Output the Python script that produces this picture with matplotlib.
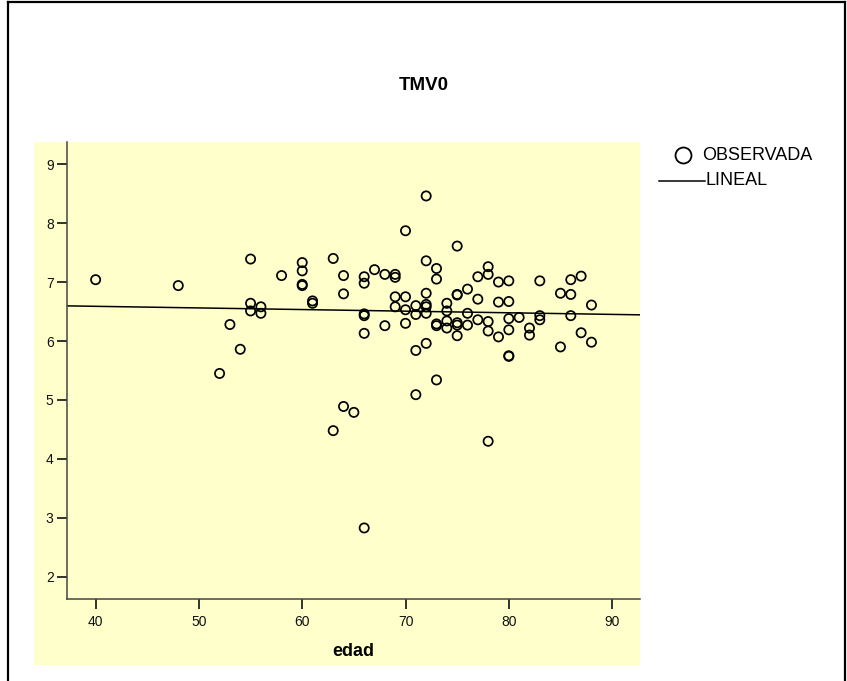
import matplotlib
matplotlib.use('Agg')
import matplotlib.pyplot as plt
from matplotlib.lines import Line2D
from matplotlib.patches import Rectangle
import numpy as np

plt.rcParams['font.family'] = ['Liberation Sans', 'DejaVu Sans']

title = 'TMV0'
x_label = 'edad'
legend_labels = ['OBSERVADA', 'LINEAL']
x_ticks = [40, 50, 60, 70, 80, 90]
y_ticks = [2, 3, 4, 5, 6, 7, 8, 9]

edad = [40, 48, 52, 53, 54,
        55, 55, 55, 56, 56, 58,
        60, 60, 60, 60, 61, 61,
        63, 63, 64, 64, 64, 65,
        66, 66, 66, 66, 66, 66, 67,
        68, 68, 69, 69, 69, 69,
        70, 70, 70, 70, 71, 71, 71, 71,
        72, 72, 72, 72, 72, 72, 72,
        73, 73, 73, 73, 73,
        74, 74, 74, 74,
        75, 75, 75, 75, 75, 75,
        76, 76, 76, 77, 77, 77,
        78, 78, 78, 78, 78,
        79, 79, 79,
        80, 80, 80, 80, 80, 80,
        81, 82, 82, 83, 83, 83,
        85, 85, 86, 86, 86, 87, 87, 88, 88]
tmv0 = [7.04, 6.94, 5.45, 6.28, 5.86,
        7.39, 6.64, 6.51, 6.58, 6.47, 7.11,
        7.33, 7.19, 6.96, 6.94, 6.68, 6.64,
        7.40, 4.48, 7.11, 6.80, 4.89, 4.79,
        7.09, 6.98, 6.46, 6.43, 6.13, 2.83, 7.21,
        7.13, 6.26, 7.13, 7.08, 6.75, 6.58,
        7.87, 6.75, 6.53, 6.30, 6.60, 6.45, 5.84, 5.09,
        8.46, 7.36, 6.81, 6.62, 6.58, 6.47, 5.96,
        7.23, 7.05, 6.29, 6.26, 5.34,
        6.64, 6.51, 6.34, 6.22,
        7.61, 6.79, 6.78, 6.31, 6.27, 6.09,
        6.88, 6.47, 6.27, 7.09, 6.71, 6.36,
        7.26, 7.13, 6.33, 6.17, 4.30,
        7.00, 6.66, 6.07,
        7.02, 6.67, 6.38, 6.19, 5.75, 5.74,
        6.40, 6.22, 6.10, 7.02, 6.43, 6.36,
        6.81, 5.90, 7.04, 6.79, 6.43, 7.10, 6.14, 6.61, 5.98]

fit_intercept = 6.698
fit_slope = -0.00274

W, H = 847, 681
fig = plt.figure(figsize=(W / 100, H / 100), dpi=100)
fig.patch.set_facecolor('white')


def fx(px):
    return px / W


def fy(py):
    return 1 - py / H


bg = '#FFFFCC'
fig.patches.append(Rectangle((fx(34), fy(665)), fx(640) - fx(34), fy(141.7) - fy(665),
                             transform=fig.transFigure, facecolor=bg, edgecolor='none', zorder=-5))

# outer frame
for (x0, y0, x1, y1) in [(8, 2, 845, 2), (8, 2, 8, 681), (845, 2, 845, 681)]:
    fig.add_artist(Line2D([fx(x0), fx(x1)], [fy(y0), fy(y1)], transform=fig.transFigure,
                          color='black', lw=1.6))

ax = fig.add_axes([fx(66.7), fy(599.3), fx(640) - fx(66.7), fy(141.7) - fy(599.3)])
ax.set_zorder(2)
ax.set_facecolor('none')
ax.set_xlim(37.2, 92.7)
ax.set_ylim(1.62, 9.38)
for s in ['top', 'right']:
    ax.spines[s].set_visible(False)
for s in ['left', 'bottom']:
    ax.spines[s].set_color('#444444')
    ax.spines[s].set_linewidth(1.1)

ax.scatter(edad, tmv0, s=44, facecolors='none', edgecolors='black', linewidths=1.25, zorder=3,
           clip_on=False)
xs = np.array(ax.get_xlim())
ax.plot(xs, fit_intercept + fit_slope * xs, color='black', lw=1.1, zorder=2)

ax.set_xticks(x_ticks)
ax.set_yticks(y_ticks)
ax.tick_params(axis='both', direction='out', length=7, width=1.3, color='#222222',
               labelsize=10, labelcolor='#111111')
ax.tick_params(axis='x', pad=4.2)
ax.tick_params(axis='y', pad=2.4)

ax.set_xlabel(x_label, fontsize=13, fontweight='bold')
ax.xaxis.set_label_coords(0.5, (599.3 - 651.7) / (599.3 - 141.7))
ax.xaxis.label.set_va('center')

fig.text(0.5, fy(85), title, ha='center', va='center', fontsize=13.5, fontweight='bold')

# legend
fig.add_artist(Line2D([fx(682.7)], [fy(155)], transform=fig.transFigure, marker='o',
                      markersize=11.5, markerfacecolor='none', markeredgecolor='black',
                      markeredgewidth=1.3, linestyle='none'))
fig.text(fx(702), fy(155), legend_labels[0], ha='left', va='center', fontsize=13)
fig.add_artist(Line2D([fx(659), fx(705)], [fy(180.7), fy(180.7)], transform=fig.transFigure,
                      color='black', lw=1.1))
fig.text(fx(705), fy(180.7), legend_labels[1], ha='left', va='center', fontsize=13)

fig.savefig('out.png', dpi=100)
